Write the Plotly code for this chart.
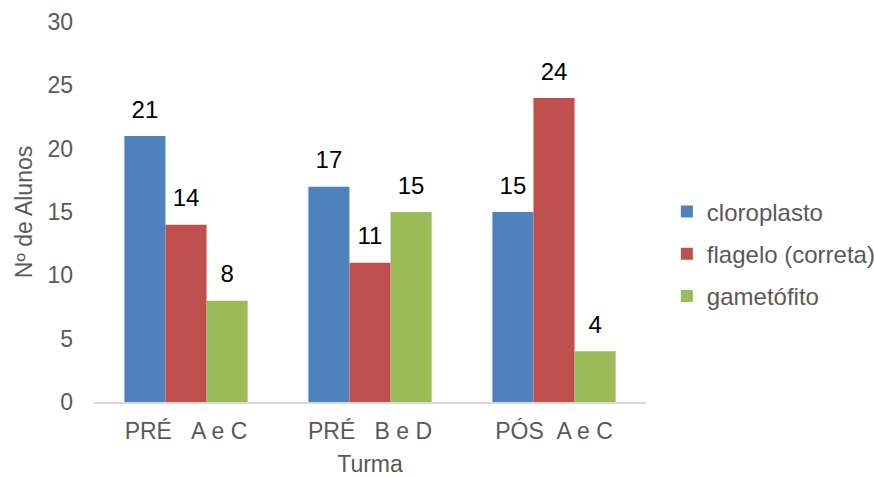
import plotly.graph_objects as go

# Respostas por turma
turmas = ["PRÉ\u00a0\u00a0\u00a0A e C", "PRÉ\u00a0\u00a0\u00a0B e D", "PÓS\u00a0\u00a0A e C"]
series = ["cloroplasto", "flagelo (correta)", "gametófito"]
cloroplasto = [21, 17, 15]
flagelo = [14, 11, 24]
gametofito = [8, 15, 4]
cores = ["#4F81BD", "#C0504D", "#9BBB59"]

FONTE = "Liberation Sans, Arial, sans-serif"
CINZA = "#595959"

fig = go.Figure()
for nome, vals, cor in zip(series, [cloroplasto, flagelo, gametofito], cores):
    fig.add_trace(go.Bar(
        x=turmas, y=vals, name=nome, legendgroup=nome,
        marker=dict(color=cor, line=dict(width=0)),
        offsetgroup=nome,
    ))

# Rótulos de valor acima de cada barra
for nome, vals in zip(series, [cloroplasto, flagelo, gametofito]):
    fig.add_trace(go.Scatter(
        x=turmas, y=vals, mode="markers+text", showlegend=False,
        offsetgroup=nome,
        marker=dict(size=18, opacity=0),
        text=[str(v) for v in vals], textposition="top center",
        textfont=dict(family=FONTE, size=24, color="#000000"),
        cliponaxis=False, hoverinfo="skip",
    ))

fig.update_layout(
    width=874, height=477,
    margin=dict(l=94, r=228, t=22, b=75, autoexpand=False),
    paper_bgcolor="white", plot_bgcolor="white",
    barmode="group", bargap=0.33, bargroupgap=0,
    scattermode="group", scattergap=0.33,
    font=dict(family=FONTE, size=23, color=CINZA),
    legend=dict(
        xref="container", yref="container",
        x=0.763, y=0.4675, xanchor="left", yanchor="middle",
        traceorder="grouped", tracegroupgap=8,
        font=dict(family=FONTE, size=24, color=CINZA),
        itemwidth=30,
    ),
    showlegend=True,
)
fig.update_xaxes(
    showline=True, linecolor="#D9D9D9", linewidth=1.5,
    ticks="", showgrid=False, ticklabelstandoff=8, automargin=False,
    title=dict(text="Turma", font=dict(family=FONTE, size=23, color=CINZA), standoff=20),
    tickfont=dict(family=FONTE, size=23, color=CINZA),
)
fig.update_yaxes(
    range=[0, 30], dtick=5, showgrid=False, zeroline=False,
    showline=False, ticks="", ticklabelstandoff=20, automargin=False,
    title=dict(text="Nº de Alunos", font=dict(family=FONTE, size=23, color=CINZA), standoff=8),
    tickfont=dict(family=FONTE, size=23, color=CINZA),
)

fig.write_html("out.html")
